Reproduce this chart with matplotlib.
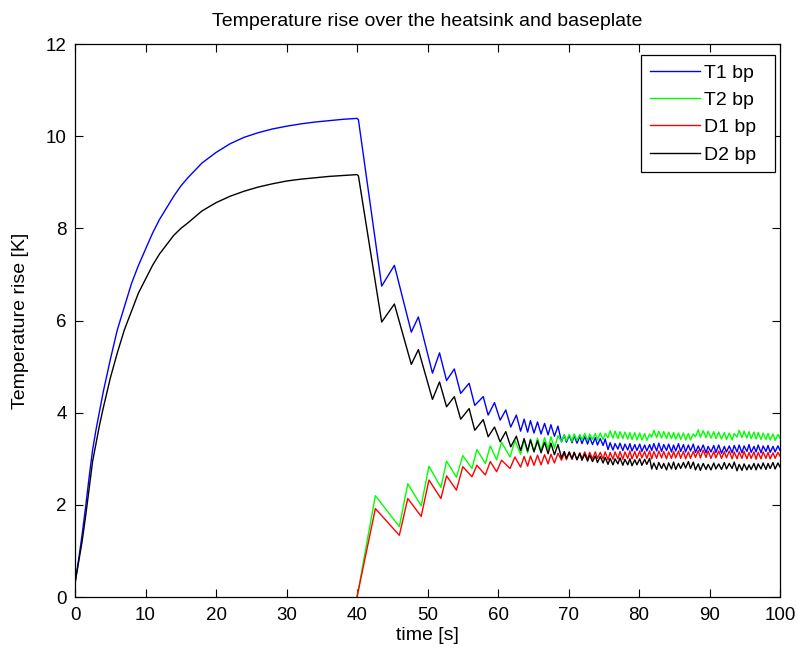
import numpy as np
import matplotlib
matplotlib.use("Agg")
import matplotlib.pyplot as plt

plt.rcParams['font.family'] = ['Liberation Sans', 'DejaVu Sans']

# warm-up part, only T1 and D2 are heating
t_rise = [0.0, 0.5, 1.0, 1.5, 2.0, 2.5, 3.0, 3.5, 4.0, 5.0, 6.0, 7.0, 8.0, 9.0, 10.0, 11.0, 12.0, 13.0,
          14.0, 15.0, 16.0, 18.0, 20.0, 22.0, 24.0, 26.0, 28.0, 30.0, 32.0, 34.0, 36.0, 38.0, 40.0]
t1_rise = [0.30, 0.80, 1.35, 1.95, 2.60, 3.20, 3.65, 4.05, 4.45, 5.15, 5.80, 6.30, 6.80, 7.20, 7.55, 7.90, 8.20, 8.45,
           8.70, 8.92, 9.10, 9.42, 9.65, 9.84, 9.98, 10.08, 10.16, 10.22, 10.27, 10.31, 10.34, 10.37, 10.39]
d2_rise = [0.30, 0.75, 1.20, 1.75, 2.35, 2.95, 3.35, 3.75, 4.10, 4.75, 5.30, 5.80, 6.20, 6.60, 6.90, 7.20, 7.45, 7.65,
           7.85, 8.00, 8.12, 8.38, 8.56, 8.70, 8.81, 8.90, 8.97, 9.03, 9.07, 9.10, 9.13, 9.15, 9.17]

# after 40 s, turning points of T1 / D2
t_top = [40.2, 43.5, 45.3, 47.7, 48.7, 50.7, 51.7, 52.7, 53.8, 54.7, 55.9, 56.7, 57.9, 58.6, 59.5, 60.3, 61.1, 61.8, 62.6]
t1_top = [10.36, 6.75, 7.20, 5.75, 6.08, 4.86, 5.30, 4.70, 4.95, 4.42, 4.64, 4.16, 4.35, 3.95, 4.22, 3.84, 4.06, 3.69, 3.95]
d2_top = [9.14, 5.97, 6.36, 5.05, 5.37, 4.29, 4.67, 4.13, 4.35, 3.86, 4.09, 3.62, 3.85, 3.48, 3.69, 3.37, 3.59, 3.26, 3.49]

# after 40 s, turning points of T2 / D1
t_bot = [40.0, 42.6, 46.0, 47.2, 49.1, 50.2, 51.9, 52.7, 54.1, 55.0, 56.3, 57.0, 58.2, 58.9, 59.8, 60.5, 61.7, 62.4]
t2_bot = [0.00, 2.20, 1.53, 2.46, 1.98, 2.84, 2.38, 2.95, 2.60, 3.07, 2.79, 3.20, 2.90, 3.28, 2.98, 3.36, 3.04, 3.40]
d1_bot = [0.00, 1.92, 1.34, 2.14, 1.75, 2.54, 2.14, 2.63, 2.32, 2.83, 2.61, 2.86, 2.65, 2.94, 2.72, 2.97, 2.79, 3.04]

# dense ripple from 63 s on, shared turning times
t_tail = [63.2, 63.7, 64.2, 64.6, 65.1, 65.6, 66.1, 66.6, 67.1, 67.5, 68.0, 68.5,
          69.0, 69.4, 69.7, 70.1, 70.5, 70.8, 71.2, 71.6, 71.9, 72.3, 72.7, 73.0, 73.4, 73.8, 74.1, 74.5, 74.9, 75.2,
          75.6, 75.9, 76.3, 76.6, 77.0, 77.3, 77.7, 78.0, 78.4, 78.7, 79.0, 79.4, 79.7, 80.1, 80.4, 80.8, 81.1, 81.5,
          81.8, 82.1, 82.5, 82.8, 83.2, 83.5, 83.9, 84.2, 84.6, 84.9, 85.2, 85.6, 85.9, 86.3, 86.6, 87.0, 87.3, 87.7,
          88.0, 88.4, 88.7, 89.1, 89.5, 89.8, 90.2, 90.6, 90.9, 91.3, 91.7, 92.1, 92.4, 92.8, 93.2, 93.5,
          93.9, 94.2, 94.6, 94.9, 95.3, 95.6, 95.9, 96.3, 96.6, 96.9, 97.3, 97.6, 98.0, 98.3, 98.6, 99.0, 99.3, 99.7, 100.0]
t1_tail = [3.60, 3.86, 3.58, 3.83, 3.56, 3.80, 3.54, 3.77, 3.52, 3.74, 3.49, 3.71,
           3.37, 3.52, 3.36, 3.51, 3.35, 3.50, 3.34, 3.49, 3.33, 3.48, 3.32, 3.47, 3.31, 3.46, 3.30, 3.44, 3.29, 3.43,
           3.20, 3.35, 3.19, 3.33, 3.21, 3.34, 3.18, 3.32, 3.19, 3.33, 3.17, 3.31, 3.18, 3.32, 3.16, 3.30, 3.17, 3.31,
           3.18, 3.33, 3.17, 3.34, 3.16, 3.31, 3.18, 3.32, 3.15, 3.30, 3.17, 3.33, 3.16, 3.31, 3.15, 3.30, 3.17, 3.32,
           3.14, 3.28, 3.16, 3.30, 3.13, 3.27, 3.15, 3.29, 3.14, 3.30, 3.12, 3.27, 3.15, 3.28, 3.13, 3.29,
           3.15, 3.30, 3.13, 3.28, 3.16, 3.31, 3.14, 3.27, 3.15, 3.30, 3.13, 3.28, 3.16, 3.29, 3.14, 3.27, 3.15, 3.28, 3.18]
d2_tail = [3.18, 3.44, 3.17, 3.41, 3.15, 3.39, 3.13, 3.36, 3.11, 3.34, 3.09, 3.31,
           3.02, 3.16, 3.01, 3.15, 3.00, 3.14, 2.98, 3.12, 2.97, 3.10, 2.95, 3.08, 2.94, 3.06, 2.92, 3.05, 2.91, 3.03,
           2.88, 3.01, 2.87, 3.00, 2.89, 3.02, 2.86, 2.99, 2.87, 3.00, 2.85, 2.98, 2.87, 3.00, 2.86, 2.99, 2.88, 3.01,
           2.78, 2.91, 2.77, 2.92, 2.79, 2.90, 2.76, 2.91, 2.78, 2.93, 2.77, 2.90, 2.79, 2.92, 2.80, 2.94, 2.79, 2.93,
           2.76, 2.89, 2.75, 2.90, 2.77, 2.88, 2.76, 2.91, 2.78, 2.89, 2.77, 2.92, 2.78, 2.90, 2.79, 2.93,
           2.74, 2.88, 2.75, 2.89, 2.76, 2.87, 2.77, 2.90, 2.76, 2.89, 2.78, 2.91, 2.77, 2.90, 2.79, 2.92, 2.78, 2.91, 2.82]
t2_tail = [3.10, 3.41, 3.13, 3.43, 3.16, 3.45, 3.18, 3.46, 3.21, 3.48, 3.23, 3.50,
           3.38, 3.52, 3.39, 3.53, 3.38, 3.54, 3.40, 3.53, 3.41, 3.55, 3.40, 3.54, 3.42, 3.55, 3.41, 3.56, 3.42, 3.55,
           3.46, 3.61, 3.45, 3.60, 3.44, 3.59, 3.44, 3.58, 3.43, 3.57, 3.42, 3.57, 3.41, 3.56, 3.41, 3.55, 3.40, 3.54,
           3.47, 3.62, 3.46, 3.60, 3.45, 3.59, 3.44, 3.58, 3.44, 3.57, 3.43, 3.56, 3.42, 3.56, 3.41, 3.55, 3.41, 3.54,
           3.48, 3.63, 3.47, 3.61, 3.46, 3.60, 3.45, 3.59, 3.44, 3.58, 3.43, 3.57, 3.42, 3.56, 3.41, 3.55,
           3.47, 3.62, 3.46, 3.60, 3.45, 3.59, 3.44, 3.58, 3.43, 3.57, 3.42, 3.56, 3.42, 3.55, 3.41, 3.54, 3.40, 3.53, 3.45]
d1_tail = [2.82, 3.05, 2.84, 3.06, 2.86, 3.08, 2.87, 3.09, 2.89, 3.10, 2.91, 3.12,
           2.97, 3.12, 2.98, 3.13, 2.99, 3.14, 2.98, 3.13, 3.00, 3.15, 2.99, 3.14, 3.00, 3.15, 3.01, 3.14, 3.00, 3.15,
           2.98, 3.14, 2.99, 3.15, 3.00, 3.16, 2.99, 3.15, 3.01, 3.17, 3.00, 3.16, 3.01, 3.17, 3.02, 3.16, 3.01, 3.17,
           3.00, 3.16, 3.01, 3.17, 3.02, 3.16, 3.00, 3.15, 3.01, 3.16, 3.02, 3.17, 3.01, 3.16, 3.00, 3.15, 3.01, 3.16,
           3.03, 3.18, 3.02, 3.19, 3.03, 3.17, 3.01, 3.16, 3.02, 3.17, 3.01, 3.16, 3.02, 3.17, 3.00, 3.15,
           3.00, 3.15, 3.01, 3.16, 3.00, 3.14, 3.01, 3.15, 2.99, 3.14, 3.00, 3.15, 3.01, 3.14, 3.00, 3.13, 3.01, 3.14, 3.06]

labels = ['T1 bp', 'T2 bp', 'D1 bp', 'D2 bp']

t_T1 = t_rise + t_top + t_tail
T1 = t1_rise + t1_top + t1_tail
t_D2 = t_rise + t_top + t_tail
D2 = d2_rise + d2_top + d2_tail
t_T2 = t_bot + t_tail
T2 = t2_bot + t2_tail
t_D1 = t_bot + t_tail
D1 = d1_bot + d1_tail

fig = plt.figure(figsize=(7.98, 6.55), dpi=100)
ax = fig.add_axes([0.094, 0.0885, 0.8835, 0.844])

ax.plot(t_T1, T1, color=(0, 0, 1), lw=1.0, label=labels[0])
ax.plot(t_T2, T2, color=(0, 1, 0), lw=1.0, label=labels[1])
ax.plot(t_D1, D1, color=(1, 0, 0), lw=1.0, label=labels[2])
ax.plot(t_D2, D2, color=(0, 0, 0), lw=1.0, label=labels[3])

ax.set_xlim(0, 100)
ax.set_ylim(0, 12)
ax.set_xticks(np.arange(0, 101, 10))
ax.set_yticks(np.arange(0, 13, 2))
ax.tick_params(direction='in', top=True, right=True, length=6, width=0.8, labelsize=13.5)
ax.tick_params(axis='x', pad=7)
ax.tick_params(axis='y', pad=6)
for s in ax.spines.values():
    s.set_linewidth(0.9)

ax.set_title('Temperature rise over the heatsink and baseplate', fontsize=14, pad=13)
ax.set_xlabel('time [s]', fontsize=14, labelpad=2)
ax.set_ylabel('Temperature rise [K]', fontsize=14, labelpad=12)

leg = ax.legend(loc='upper left', bbox_to_anchor=(0.803, 0.749, 0.190, 0.231), mode='expand',
                fancybox=False, edgecolor='black', framealpha=1, fontsize=14,
                handlelength=2.6, handletextpad=0.2, labelspacing=0.5,
                borderpad=0.45, borderaxespad=0)
leg.get_frame().set_linewidth(0.9)

fig.savefig('out.png', dpi=100)
